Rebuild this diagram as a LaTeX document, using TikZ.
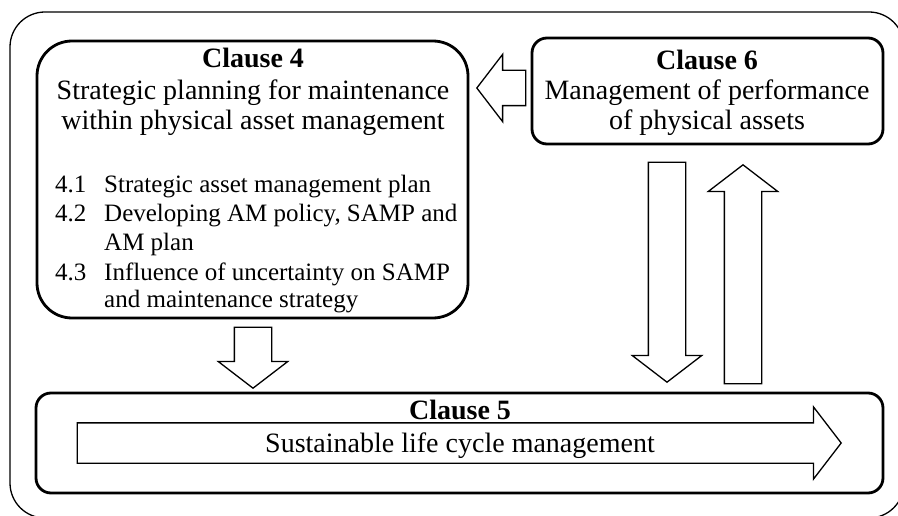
\documentclass[tikz,border=0pt]{standalone}
\usepackage{fontspec}
\setmainfont{Liberation Serif}
\usetikzlibrary{shapes.arrows}

\tikzset{
  framebox/.style={draw, line width=1.3pt, rounded corners=35pt, inner sep=0pt},
  clausebox/.style={draw, line width=2.8pt, rounded corners=15pt, inner sep=0pt},
  blockarrow/.style={single arrow, draw, fill=white, line width=1.3pt, inner sep=0pt,
    text height=36pt, text depth=0pt, single arrow head extend=16pt,
    single arrow tip angle=105, single arrow head indent=0pt},
  titletext/.style={font=\fontsize{28}{30}\selectfont\bfseries, anchor=base, inner sep=0pt},
  headtext/.style={font=\fontsize{28}{30}\selectfont, anchor=base, inner sep=0pt},
  listtext/.style={font=\fontsize{25}{29}\selectfont, anchor=base west, inner sep=0pt},
}

\begin{document}
\begin{tikzpicture}[x=1pt, y=-1pt]
    \useasboundingbox (0,0) rectangle (898,516);
    % boxes
    \node[framebox, minimum width=894pt, minimum height=506pt] (frame) at (457, 265) {};
    \node[clausebox, rounded corners=35pt, minimum width=431pt, minimum height=277pt] (c4) at (252.5, 179.5) {};
    \node[clausebox, minimum width=351pt, minimum height=106pt] (c6) at (707.5, 91) {};
    \node[clausebox, minimum width=847pt, minimum height=100pt] (c5) at (459.5, 443) {};
    % block arrows between the clauses
    \node[blockarrow, rotate=180, anchor=tip, text height=34pt, minimum height=49pt] (c6toc4) at (476, 88) {};
    \node[blockarrow, rotate=-90, anchor=tip, minimum height=61pt] (c4toc5) at (253, 389) {};
    \node[blockarrow, rotate=-90, anchor=tip, minimum height=220pt] (c6toc5) at (667, 383) {};
    \node[blockarrow, rotate=90, anchor=tip, minimum height=219pt] (c5toc6) at (743, 164) {};
    \node[blockarrow, anchor=tip, text height=39pt, minimum height=764pt] (life) at (842, 443) {};
    % clause 4
    \node[titletext] (c4title) at (253, 68) {Clause 4};
    \node[headtext] (c4line1) at (253, 100) {Strategic planning for maintenance};
    \node[headtext] (c4line2) at (253, 130) {within physical asset management};
    \node[listtext] (n41) at (55, 193) {4.1};
    \node[listtext] (t41) at (104, 193) {Strategic asset management plan};
    \node[listtext] (n42) at (55, 222) {4.2};
    \node[listtext] (t42) at (104, 222) {Developing AM policy, SAMP and};
    \node[listtext] (t42b) at (104, 251) {AM plan};
    \node[listtext] (n43) at (55, 280) {4.3};
    \node[listtext] (t43) at (104, 280) {Influence of uncertainty on SAMP};
    \node[listtext] (t43b) at (104, 308) {and maintenance strategy};
    % clause 6
    \node[titletext] (c6title) at (707, 70) {Clause 6};
    \node[headtext] (c6line1) at (707, 100) {Management of performance};
    \node[headtext] (c6line2) at (707, 130) {of physical assets};
    % clause 5
    \node[titletext] (c5title) at (460, 419) {Clause 5};
    \node[headtext] (c5line1) at (460, 452) {Sustainable life cycle management};
\end{tikzpicture}
\end{document}
